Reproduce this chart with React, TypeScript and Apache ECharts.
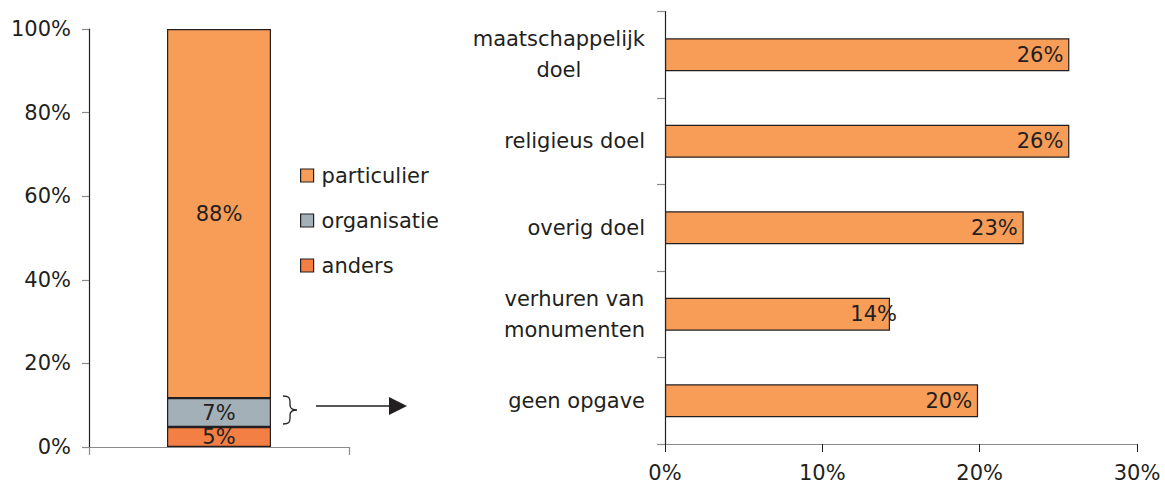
import React, { useEffect, useRef } from "react";
import * as echarts from "echarts";

const stackCategories = [""];
const stackSeriesNames = ["anders", "organisatie", "particulier"];
const stackValues = [4.8, 6.9, 88.3];
const stackLabels = ["5%", "7%", "88%"];
const legendOrder = ["particulier", "organisatie", "anders"];
const leftTicks = [0, 20, 40, 60, 80, 100];

const goalCategories = [
  "maatschappelijk\ndoel",
  "religieus doel",
  "overig doel",
  "verhuren van\nmonumenten",
  "geen opgave",
];
const goalValues = [25.7, 25.7, 22.8, 14.3, 19.9];
const goalLabels = ["26%", "26%", "23%", "14%", "20%"];
const rightTicks = [0, 10, 20, 30];

const FONT = "DejaVu Sans";
const INK = "#231F20";
const GRAY = "#8a8a8a";
const colors: Record<string, string> = {
  particulier: "#F89D58",
  organisatie: "#A3B0B8",
  anders: "#F47F44",
};

const bracketPath =
  "M283,396 C289,396 290,398 290,402 L290,405 C290,408 292,410 297,410 C292,410 290,412 290,415 L290,418 C290,422 289,424 283,424";
echarts.graphic.registerShape("bracket", echarts.graphic.extendPath(bracketPath, {}));

export default function App() {
  const ref = useRef<HTMLDivElement>(null);
  useEffect(() => {
    document.body.style.margin = "0";
    const chart = echarts.init(ref.current!, null, { renderer: "svg" });
    const option: any = {
      animation: false,
      textStyle: { fontFamily: FONT },
      grid: [
        { left: 89, right: 816, top: 29, bottom: 44, containLabel: false },
        { left: 665, right: 28, top: 11.5, bottom: 47, containLabel: false },
      ],
      legend: {
        orient: "vertical",
        left: 300,
        top: 165,
        padding: 0,
        data: legendOrder,
        icon: "rect",
        itemWidth: 13,
        itemHeight: 13,
        itemGap: 24,
        textStyle: { fontFamily: FONT, fontSize: 21, color: INK, padding: [0, 0, 0, 3] },
        itemStyle: { borderColor: INK, borderWidth: 1.2 },
        selectedMode: false,
      },
      xAxis: [
        {
          gridIndex: 0,
          type: "category",
          data: stackCategories,
          axisLine: { lineStyle: { color: GRAY, width: 1.2 } },
          axisTick: { show: true, length: 8, lineStyle: { color: GRAY, width: 1.2 } },
          axisLabel: { show: false },
        },
        {
          gridIndex: 1,
          type: "value",
          min: 0,
          max: 30,
          interval: 10,
          splitLine: { show: false },
          axisLine: { show: true, lineStyle: { color: GRAY, width: 1.2 } },
          axisTick: { show: true, length: 8, lineStyle: { color: INK, width: 1 } },
          axisLabel: {
            margin: 18,
            fontFamily: FONT,
            fontSize: 21,
            color: INK,
            formatter: (v: number) => (rightTicks.includes(v) ? v + "%" : ""),
          },
        },
      ],
      yAxis: [
        {
          gridIndex: 0,
          type: "value",
          min: 0,
          max: 100,
          interval: 20,
          splitLine: { show: false },
          axisLine: { show: true, lineStyle: { color: INK, width: 1.2 } },
          axisTick: { show: true, length: 7, lineStyle: { color: GRAY, width: 1.2 } },
          axisLabel: {
            margin: 18,
            fontFamily: FONT,
            fontSize: 21,
            color: INK,
            formatter: (v: number) => (leftTicks.includes(v) ? v + "%" : ""),
          },
        },
        {
          gridIndex: 1,
          type: "category",
          inverse: true,
          data: goalCategories,
          axisLine: { show: true, lineStyle: { color: INK, width: 1.2 } },
          axisTick: { show: true, length: 8, lineStyle: { color: GRAY, width: 1.2 } },
          axisLabel: {
            margin: 20,
            fontFamily: FONT,
            fontSize: 21,
            color: INK,
            lineHeight: 31,
            formatter: (v: string) =>
              v
                .split("\n")
                .map((s) => "{c|" + s + "}")
                .join("\n"),
            rich: {
              c: { align: "center", fontFamily: FONT, fontSize: 21, color: INK, lineHeight: 31 },
            },
          },
        },
      ],
      series: [
        ...stackSeriesNames.map((name, i) => ({
          name,
          type: "bar",
          stack: "total",
          xAxisIndex: 0,
          yAxisIndex: 0,
          barWidth: "40%",
          data: [stackValues[i]],
          itemStyle: { color: colors[name], borderColor: INK, borderWidth: 1.2 },
          label: {
            show: true,
            position: "inside",
            formatter: () => stackLabels[i],
            fontFamily: FONT,
            fontSize: 21,
            color: INK,
          },
        })),
        {
          name: "doelen",
          type: "bar",
          xAxisIndex: 1,
          yAxisIndex: 1,
          barWidth: "38%",
          data: goalValues.map((v, i) => ({
            value: v,
            label: i === 3 ? { offset: [13, 0] } : undefined,
          })),
          itemStyle: { color: colors.particulier, borderColor: INK, borderWidth: 1.2 },
          label: {
            show: true,
            position: "insideRight",
            distance: 6,
            formatter: (p: any) => goalLabels[p.dataIndex],
            fontFamily: FONT,
            fontSize: 21,
            color: INK,
          },
        },
      ],
      graphic: [
        {
          type: "bracket",
          x: 0,
          y: 0,
          style: { fill: "none", stroke: INK, lineWidth: 1.3 },
        },
        {
          type: "line",
          shape: { x1: 316, y1: 406, x2: 392, y2: 406 },
          style: { stroke: INK, lineWidth: 1.3 },
        },
        {
          type: "polygon",
          shape: { points: [[389, 397], [407, 406], [389, 415]] },
          style: { fill: INK },
        },
      ],
    };
    chart.setOption(option);
    return () => chart.dispose();
  }, []);
  return <div ref={ref} style={{ width: 1165, height: 491 }} />;
}
